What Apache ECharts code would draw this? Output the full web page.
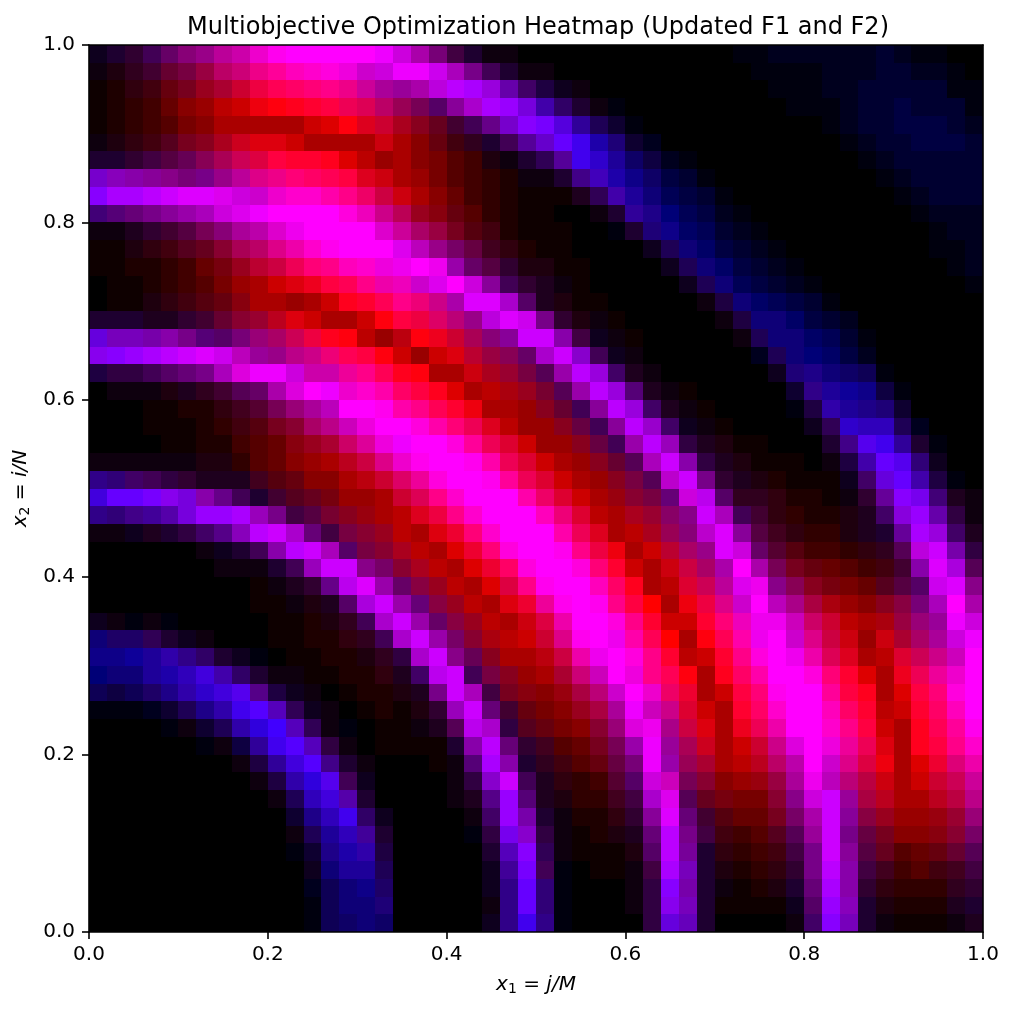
<!DOCTYPE html>
<html>
<head>
<meta charset="utf-8">
<title>Multiobjective Optimization Heatmap</title>
<script src="https://cdn.jsdelivr.net/npm/echarts@6/dist/echarts.min.js"></script>
<style>
html, body { margin: 0; padding: 0; background: #fff; }
#chart { width: 1013px; height: 1010px; }
</style>
</head>
<body>
<div id="chart"></div>
<script>
var titleText = "Multiobjective Optimization Heatmap (Updated F1 and F2)";
var tickValues = [0, 0.2, 0.4, 0.6, 0.8, 1];
// channel value for each hex level used in the tables below
var levelValues = [0, 14, 30, 48, 65, 85, 102, 119, 136, 153, 170, 187, 204, 221, 238, 255];

// red channel, one hex level (0-f) per cell, top row of the picture first
var redLevels = [
"1234689bceffffffe ca742110000000000 0000000000000000",
"1234679bceffffecc eeca7421100000000 0000000000000000",
"1234679aceffffeca 9abba964211000000 0000000000000000",
"1234689bceffffedb 9758aa97432100000 0000000000000000",
"1234578aaaaacdfdc a8644678753210000 0000000000000000",
"1234578acddcaaaac a8643245664221000 0000000000000000",
"2234568acdffffdb9 a8754212354321100 0000000000000000",
"78888779bdeffffdc a9754321124421100 0000000000000000",
"8aabcdddcceffffec ca864321112342100 0000000000000000",
"456789acdefffffec b9865321100123200 0000000000000000",
"11234578abdeffffd ca975421110002210 0000000000000000",
"11234568abdefffff db976432110000121 0000000000000000",
"112234679bceffffe efe96532211000012 1000000000000000",
"011234579acdefffe ecdfc843211000001 2100000000000000",
"011234568aa9acfff fecadda5221100000 1210000000000000",
"2222234689bdcaacf fedb9bdc732110000 0121100000000000",
"6777875579aceffb9 bfeca88cc84111000 0012110000000000",
"889abcdcb99bcefff c9cdb986ac8411000 0000210000000000",
"2334567adeeccceff ffaaca9759b942100 0000122111000000",
"0111223456adfeeff fffdaba9759b95211 0000013211100000",
"000112234579abfff ffffeaa98648b9421 1000002322210000",
"000111234578abcef ffffedb998648b941 1100001333320000",
"0000112245689acde effffedc998649b93 2211000245432000",
"1111112235689abcd efffffedca9865ac8 3221110124653100",
"33443322245688abc defffffedca9875bc 7322211114664200",
"4667878642456799a cdffffffedca9876c b533322113687421",
"33445799a9745789a bdeffffffedbaa988 ca44332222489631",
"111223458bca64789 badeffffffedaba98 bd8543332226a942",
"00000011248bca578 abadeffffffeeacba 9dc655443335bc73",
"0000000111249cc87 8abadefffffffcacc aafa776654448da5",
"00000000011236bd9 689baddfffffffabd cbde888776555cd8",
"000000000111225ac 9689badeeffffffae edcfbaaa98887afa",
"1101000000112234a c9689bacdefffffcc ffeeecccbaa999ec",
"12232110001122334 ac978abccdffefffa fffefcdcc9caaace",
"11123332100112223 3ac868aabceeffffb cffffeeddabdcccf",
"01122344321111223 24bc4789aaccfefff affffffffdaeeeef",
"11122334552110122 227ca47889abcfeee acffffffffadffff",
"00001223455311012 1239c646789aaeccd caffffffffbcffff",
"00000112334531001 1125ba3567889deac daeeefffffcaffff",
"00000001134553101 11128b63456779e9a cacccdfeeedaffff",
"00000000123454210 00115a82345667e99 aabbbbfcddeadede",
"00000000012335410 000138c4233455cc7 88999aebbbcacccc",
"00000000001234520 00012595223344ad5 677788cc9abaabbb",
"00000000000123431 000014972122338d6 456677ac88999999",
"00000000000122342 000003783112226b7 4445559c76788887",
"00000000000012232 000002583111125b7 2334447c85656665",
"00000000000011222 000001474001114a7 2223337b84445444",
"00000000000001112 00000136300001387 2112226a83333333",
"00000000000001112 00000136300001387 2111115982222222",
"00000000000001111 00000134300000366 2000014872111112"
];

// blue channel, same layout
var blueLevels = [
"23356789aceffffff da743110000000000 0011222222321100",
"11233446789bcddcd ffeb8531100000000 0001111222332210",
"00111223345678899 9adffda6421000000 0000111223333311",
"00000000011234556 5569cffda63110000 0000011123343331",
"00000000000000123 222358cffd9531000 0000000123344432",
"11112222211000001 00112359cfea73200 0000000012334443",
"33344555544332000 0000011359ec96421 0000000001233333",
"cba98788988765421 00000001138ba8643 1000000000123333",
"fffffffedcccca864 100000000025a9754 3100000000012333",
"77789abdefffffdb8 52110000000139875 4210000000001222",
"112334579aceffffc 96421100000013786 5321000000000122",
"00111223568acefff eb864210000000257 6432100000000112",
"00000001234578bcd efea6431100000025 7643210000000012",
"0000000000012458a bcefd953210000002 5754321000000001",
"00011111100000235 878affc6210000000 1476543100000000",
"33322333332100001 44678dfe831100000 0147764320000000",
"dbbaa876776542100 1123579ffa4210000 0015776531000000",
"effffffeb98887541 00013456cfc521000 0002577642000000",
"4445678bdffdaa985 210012345afd62100 0000278765100000",
"0111122356adffcca 6420001235afd7210 0000038998410000",
"0000000123579bffe a85310002359fd621 0000014a98730000",
"00000000112368bdf fda7520002459fc62 10000025cbb52000",
"0000000000012369d fffd953000245afb4 210000038ee93100",
"11111111000000248 ceffea53000235bfa 421000014afe7200",
"87654322221100013 69dffe953000245cf 8321000026dfa410",
"dfffeda8533221000 358cfffa63001347d e6221000139fe721",
"8789adfffb8443210 0248cfffb73002368 fb531000126dfa41",
"11223468bffc74432 00137cfffa5200257 cf9421001239fd62",
"0000001235affb643 200037dffe8410036 8fd631000125dfa4",
"000000011135bff86 3200036dffd730014 6afa52100013afd5",
"00000000001238efa 64200048effb62003 59ee852100246ef8",
"000000000001126df a74200139efe84001 48cfb84100247bfa",
"2111100000000125c fa6420014affd8300 37beeb63001479fd",
"76653210000000125 cfa6310038efea500 15aefc84101369df",
"8899a863210000012 4cf8520014aefd830 038dfea5200358bf",
"7779abda631100001 26ef5420037bfd851 026affd7300259cf",
"54568acde84210000 128fb4210147cfc63 0047eff9420047df",
"1112358aefb521000 013bf73100249fb83 0036cffb630036bf",
"00001135adfb51100 0125ec4210037de84 1025affc8400259e",
"0000001149efb4100 0003af7320025af95 20038dfd9510248c",
"00000000149df8310 00017fa3210147fa5 30026afc8410037a",
"00000000014ade520 00014cf5210036db5 300149eb74100359",
"000000000015bda30 000128f7210024ce5 210038df94200248",
"0000000000038be62 000016fa3100139f7 310026af94200137",
"00000000000159b93 000014ec4100127f8 4100259f84200136",
"00000000000138aa4 000003bf5100016f9 3100148f94200135",
"00000000000027995 0000029f5100014fb 3100138fa4200124",
"00000000000025786 0000028f7100014fa 3100137fa3100023",
"00000000000015777 0000018f7100014eb 3000026fb3100023",
"00000000000015676 0000028e8100004db 3000016fb3100012"
];

function levelsOf(rows) {
    return rows.map(function (row) {
        return row.replace(/\s/g, "");
    });
}

function buildCells() {
    var reds = levelsOf(redLevels);
    var blues = levelsOf(blueLevels);
    var cells = [];
    for (var r = 0; r < reds.length; r++) {
        for (var c = 0; c < reds[r].length; c++) {
            // row 0 of the tables is the top of the axes
            cells.push([
                c / reds[r].length,
                (reds.length - 1 - r) / reds.length,
                (c + 1) / reds[r].length,
                (reds.length - r) / reds.length,
                levelValues[parseInt(reds[r][c], 16)],
                levelValues[parseInt(blues[r][c], 16)]
            ]);
        }
    }
    return cells;
}

function renderCell(params, api) {
    var p0 = api.coord([api.value(0), api.value(1)]);
    var p1 = api.coord([api.value(2), api.value(3)]);
    var x0 = Math.round(p0[0]), x1 = Math.round(p1[0]);
    var y0 = Math.round(p0[1]), y1 = Math.round(p1[1]);
    return {
        type: "rect",
        shape: { x: x0, y: y1, width: x1 - x0, height: y0 - y1 },
        style: { fill: "rgb(" + api.value(4) + ",0," + api.value(5) + ")" }
    };
}

var labelFont = "DejaVu Sans";
var nameRich = {
    v: { fontFamily: labelFont, fontStyle: "italic", fontSize: 20, color: "#000" },
    n: { fontFamily: labelFont, fontSize: 20, color: "#000" },
    s: { fontFamily: labelFont, fontSize: 14, color: "#000", verticalAlign: "bottom", padding: [8, 0, 0, 0] }
};

function mainAxis(position, name, gap, labelMargin) {
    return {
        type: "value",
        position: position,
        min: 0,
        max: 1,
        interval: 0.2,
        z: 5,
        name: name,
        nameLocation: "middle",
        nameGap: gap,
        nameTextStyle: { rich: nameRich },
        splitLine: { show: false },
        axisLine: { show: true, onZero: false, lineStyle: { color: "#000", width: 1.6 } },
        axisTick: { show: true, length: 7, lineStyle: { color: "#000", width: 1.6 } },
        axisLabel: {
            color: "#000",
            fontFamily: labelFont,
            fontSize: 20,
            margin: labelMargin,
            customValues: tickValues,
            formatter: function (v) { return v.toFixed(1); }
        }
    };
}

function frameAxis(position) {
    return {
        type: "value",
        position: position,
        min: 0,
        max: 1,
        z: 5,
        splitLine: { show: false },
        axisLine: { show: true, onZero: false, lineStyle: { color: "#000", width: 1.6 } },
        axisTick: { show: false },
        axisLabel: { show: false }
    };
}

var chart = echarts.init(document.getElementById("chart"));
chart.setOption({
    animation: false,
    backgroundColor: "#fff",
    title: {
        text: titleText,
        left: 533,
        top: 11,
        textAlign: "center",
        textStyle: { fontFamily: labelFont, fontSize: 24, fontWeight: "normal", color: "#000" }
    },
    grid: { left: 89, top: 45, right: 30, bottom: 78, outerBoundsMode: "none" },
    xAxis: [
        mainAxis("bottom", "{v|x}{s|1}{n| = }{v|j/M}", 42, 13),
        frameAxis("top")
    ],
    yAxis: [
        mainAxis("left", "{v|x}{s|2}{n| = }{v|i/N}", 53, 14),
        frameAxis("right")
    ],
    series: [{
        type: "custom",
        coordinateSystem: "cartesian2d",
        z: 1,
        silent: true,
        renderItem: renderCell,
        encode: { x: [0, 2], y: [1, 3] },
        data: buildCells()
    }]
});
</script>
</body>
</html>
